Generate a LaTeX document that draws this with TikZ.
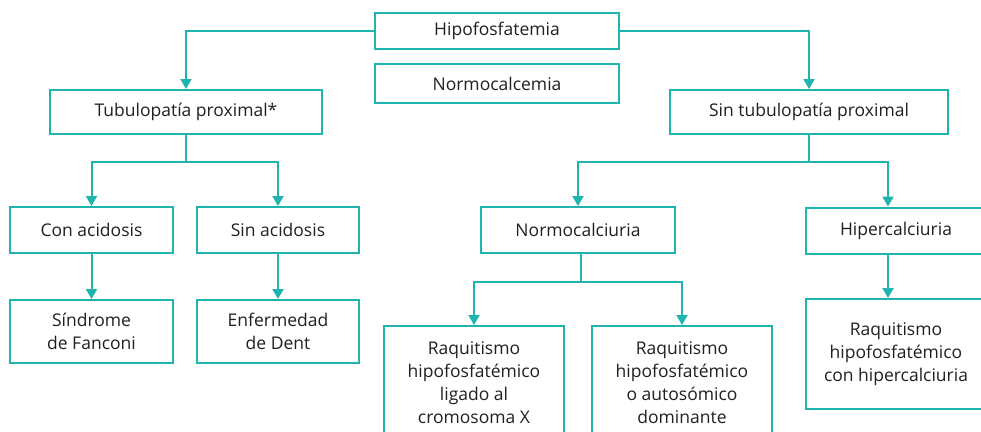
\documentclass[tikz,border=0pt]{standalone}
\usepackage{fontspec}
\setmainfont{Open Sans}
\usepackage{tikz}
\usetikzlibrary{arrows.meta}
\usetikzlibrary{positioning}
\definecolor{teal1}{RGB}{32,180,175}
\definecolor{ink}{RGB}{35,31,32}

\begin{document}
\begin{tikzpicture}[x=1pt,y=-1pt]
            \tikzset{every node/.style={rectangle, draw=teal1, line width=2pt, text=ink,
                        align=center, inner sep=0pt, font=\fontsize{17.5}{23}\selectfont},
                    >={Triangle[teal1,width=11pt,length=10pt]},
                    link/.style={draw=teal1,line width=2pt}}
            \useasboundingbox (0,0) rectangle (981,431);
            \node[minimum width=244, minimum height=36] (hipo) at (497, 31) {Hipofosfatemia};
            \node[minimum width=244, minimum height=39] (normo) at (497, 83.5) {Normocalcemia};
            \node[minimum width=272, minimum height=44] (tub) at (186, 112) {Tubulopatía proximal*};
            \node[minimum width=278, minimum height=44] (sintub) at (809, 112) {Sin tubulopatía proximal};
            \node[minimum width=163, minimum height=46] (conac) at (91.5, 230) {Con acidosis};
            \node[minimum width=162, minimum height=46] (sinac) at (278, 230) {Sin acidosis};
            \node[minimum width=163, minimum height=63] (fanconi) at (91.5, 331.5) {Síndrome\\de Fanconi};
            \node[minimum width=162, minimum height=63] (dent) at (278, 331.5) {Enfermedad\\de Dent};
            \node[minimum width=194, minimum height=46] (normoc) at (578, 230) {Normocalciuria};
            \node[minimum width=180, minimum height=46] (hiperc) at (896, 230.5) {Hipercalciuria};
            \node[minimum width=180, minimum height=114] (raqx) at (474, 383) {Raquitismo\\hipofosfatémico\\ligado al\\cromosoma X};
            \node[minimum width=180, minimum height=114] (raqad) at (682, 383) {Raquitismo\\hipofosfatémico\\o autosómico\\dominante};
            \node[minimum width=180, minimum height=110] (raqh) at (896, 354) {Raquitismo\\hipofosfatémico\\con hipercalciuria};
            \path [link, ->] (hipo.west) -| (tub.north);
            \path [link, ->] (hipo.east) -| (sintub.north);
            \path [link, ->] (tub.south) -- ++(0,27) -| (conac.north);
            \path [link, ->] (tub.south) -- ++(0,27) -| (sinac.north);
            \path [link, ->] (conac) -- (fanconi);
            \path [link, ->] (sinac) -- (dent);
            \path [link, ->] (sintub.south) -- ++(0,27) -| (normoc.north);
            \path [link, ->] (sintub.south) -- ++(0,27) -| ([xshift=-8pt]hiperc.north);
            \path [link, ->] ([xshift=-8pt]hiperc.south) -- ([xshift=-8pt]raqh.north);
            \path [link, ->] ([xshift=3pt]normoc.south) -- ++(0,28) -| (raqx.north);
            \path [link, ->] ([xshift=3pt]normoc.south) -- ++(0,28) -| (raqad.north);
        \end{tikzpicture}
\end{document}
